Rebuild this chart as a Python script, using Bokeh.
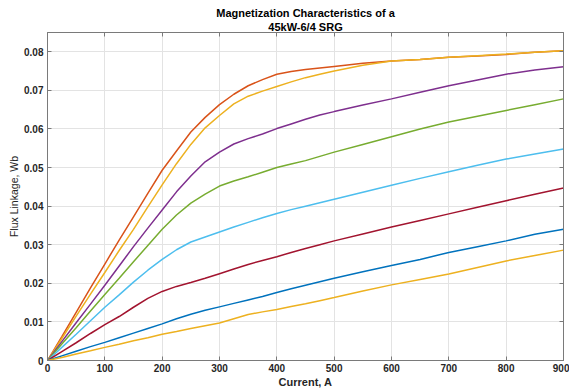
from bokeh.plotting import figure
from bokeh.models import LinearAxis, FixedTicker, Range1d, Title, CustomJSTickFormatter
from bokeh.embed import file_html
from bokeh.resources import INLINE

current = [0, 25, 50, 75, 100, 125, 150, 175, 200, 225, 250, 275, 300, 325, 350, 375, 400,
           425, 450, 475, 500, 550, 600, 650, 700, 750, 800, 850, 900]

flux_1 = [0, 0.0062, 0.0125, 0.0188, 0.0250, 0.0312, 0.0372, 0.0433, 0.0493, 0.0543, 0.0592, 0.0630, 0.0663, 0.0690, 0.0712, 0.0728, 0.0742,
          0.0749, 0.0754, 0.0758, 0.0762, 0.0770, 0.0776, 0.0780, 0.0786, 0.0789, 0.0793, 0.0799, 0.0803]
flux_2 = [0, 0.0057, 0.0115, 0.0172, 0.0228, 0.0285, 0.0340, 0.0398, 0.0455, 0.0510, 0.0560, 0.0603, 0.0635, 0.0665, 0.0685, 0.0698, 0.0710,
          0.0722, 0.0733, 0.0742, 0.0750, 0.0765, 0.0776, 0.0780, 0.0786, 0.0790, 0.0794, 0.0799, 0.0803]
flux_3 = [0, 0.0049, 0.0098, 0.0146, 0.0195, 0.0245, 0.0295, 0.0343, 0.0390, 0.0437, 0.0478, 0.0515, 0.0540, 0.0561, 0.0575, 0.0587, 0.0601,
          0.0613, 0.0625, 0.0636, 0.0645, 0.0662, 0.0678, 0.0695, 0.0712, 0.0727, 0.0742, 0.0753, 0.0761]
flux_4 = [0, 0.0043, 0.0085, 0.0128, 0.0171, 0.0213, 0.0256, 0.0298, 0.0340, 0.0377, 0.0408, 0.0431, 0.0452, 0.0465, 0.0476, 0.0488, 0.0500,
          0.0509, 0.0518, 0.0529, 0.0540, 0.0560, 0.0580, 0.0600, 0.0618, 0.0633, 0.0648, 0.0663, 0.0678]
flux_5 = [0, 0.0034, 0.0068, 0.0103, 0.0138, 0.0170, 0.0203, 0.0234, 0.0262, 0.0287, 0.0307, 0.0320, 0.0333, 0.0346, 0.0358, 0.0370, 0.0381,
          0.0391, 0.0400, 0.0409, 0.0418, 0.0436, 0.0454, 0.0472, 0.0489, 0.0506, 0.0522, 0.0535, 0.0548]
flux_6 = [0, 0.0023, 0.0046, 0.0070, 0.0093, 0.0114, 0.0138, 0.0161, 0.0179, 0.0192, 0.0202, 0.0213, 0.0225, 0.0237, 0.0249, 0.0259, 0.0269,
          0.0280, 0.0290, 0.0300, 0.0310, 0.0328, 0.0346, 0.0363, 0.0380, 0.0397, 0.0414, 0.0431, 0.0447]
flux_7 = [0, 0.0012, 0.0024, 0.0036, 0.0047, 0.0059, 0.0071, 0.0083, 0.0095, 0.0108, 0.0120, 0.0130, 0.0139, 0.0148, 0.0157, 0.0166, 0.0176,
          0.0186, 0.0195, 0.0204, 0.0213, 0.0230, 0.0246, 0.0262, 0.0280, 0.0295, 0.0310, 0.0327, 0.0340]
flux_8 = [0, 0.0008, 0.0017, 0.0025, 0.0034, 0.0042, 0.0051, 0.0059, 0.0068, 0.0075, 0.0083, 0.0090, 0.0097, 0.0108, 0.0119, 0.0126, 0.0132,
          0.0140, 0.0147, 0.0155, 0.0163, 0.0180, 0.0196, 0.0210, 0.0224, 0.0241, 0.0258, 0.0272, 0.0286]

series = [flux_1, flux_2, flux_3, flux_4, flux_5, flux_6, flux_7, flux_8]
colors = ["#D95319", "#EDB120", "#7E2F8E", "#77AC30", "#4DBEEE", "#A2142F", "#0072BD", "#EDB120"]

x_ticks = [0, 100, 200, 300, 400, 500, 600, 700, 800, 900]
y_ticks = [0, 0.01, 0.02, 0.03, 0.04, 0.05, 0.06, 0.07, 0.08]
y_tick_labels = ["0", "0.01", "0.02", "0.03", "0.04", "0.05", "0.06", "0.07", "0.08"]

title_line_1 = "Magnetization Characteristics of a"
title_line_2 = "45kW-6/4 SRG"

FONT = "Liberation Sans"
AX = "#262626"
BOX = "#7a7a7a"

p = figure(width=569, height=390, x_range=Range1d(0, 900), y_range=Range1d(0, 0.085),
           output_backend="svg", toolbar_location=None, title_location=None,
           min_border_left=47, min_border_right=6, min_border_bottom=29, min_border_top=32)

for ys, c in zip(series, colors):
    p.line(current, ys, line_color=c, line_width=1.5)

p.background_fill_color = "white"
p.border_fill_color = "white"
p.outline_line_color = BOX
p.outline_line_width = 1

p.xgrid.grid_line_color = "#e3e3e3"
p.ygrid.grid_line_color = "#e3e3e3"
p.xgrid.ticker = FixedTicker(ticks=x_ticks)
p.ygrid.ticker = FixedTicker(ticks=y_ticks)

xa = p.xaxis[0]
xa.ticker = FixedTicker(ticks=x_ticks)
xa.axis_label = "Current, A"
xa.axis_label_text_font = FONT
xa.axis_label_text_font_style = "bold"
xa.axis_label_text_font_size = "11px"
xa.axis_label_text_color = AX
xa.axis_label_standoff = 1
xa.major_label_text_font = FONT
xa.major_label_text_font_style = "bold"
xa.major_label_text_font_size = "10px"
xa.major_label_text_color = AX
xa.major_label_standoff = 3
xa.axis_line_color = BOX
xa.major_tick_line_color = BOX
xa.major_tick_in = 4
xa.major_tick_out = 0
xa.minor_tick_line_color = None

ya = p.yaxis[0]
ya.ticker = FixedTicker(ticks=y_ticks)
ya.major_label_overrides = {t: s for t, s in zip(y_ticks, y_tick_labels)}
ya.axis_label = "Flux Linkage, Wb"
ya.axis_label_text_font = FONT
ya.axis_label_text_font_style = "normal"
ya.axis_label_text_font_size = "10.5px"
ya.axis_label_text_color = AX
ya.axis_label_standoff = 1
ya.major_label_text_font = FONT
ya.major_label_text_font_style = "bold"
ya.major_label_text_font_size = "10px"
ya.major_label_text_color = AX
ya.major_label_standoff = 4
ya.axis_line_color = BOX
ya.major_tick_line_color = BOX
ya.major_tick_in = 4
ya.major_tick_out = 0
ya.minor_tick_line_color = None

blank = CustomJSTickFormatter(code="return ''")
top = LinearAxis(ticker=FixedTicker(ticks=x_ticks), formatter=blank,
                 major_tick_in=4, major_tick_out=0, minor_tick_line_color=None,
                 axis_line_color=BOX, major_tick_line_color=BOX,
                 major_label_standoff=0)
right = LinearAxis(ticker=FixedTicker(ticks=y_ticks), formatter=blank,
                   major_tick_in=4, major_tick_out=0, minor_tick_line_color=None,
                   axis_line_color=BOX, major_tick_line_color=BOX,
                   major_label_standoff=0)
p.add_layout(top, "above")
p.add_layout(right, "right")

for txt in (title_line_2, title_line_1):
    p.add_layout(Title(text=txt, align="center", text_font=FONT, text_font_size="11px",
                       text_font_style="bold", text_color="#000000", standoff=0,
                       offset=0), "above")

open("out.html", "w").write(file_html(p, INLINE))
